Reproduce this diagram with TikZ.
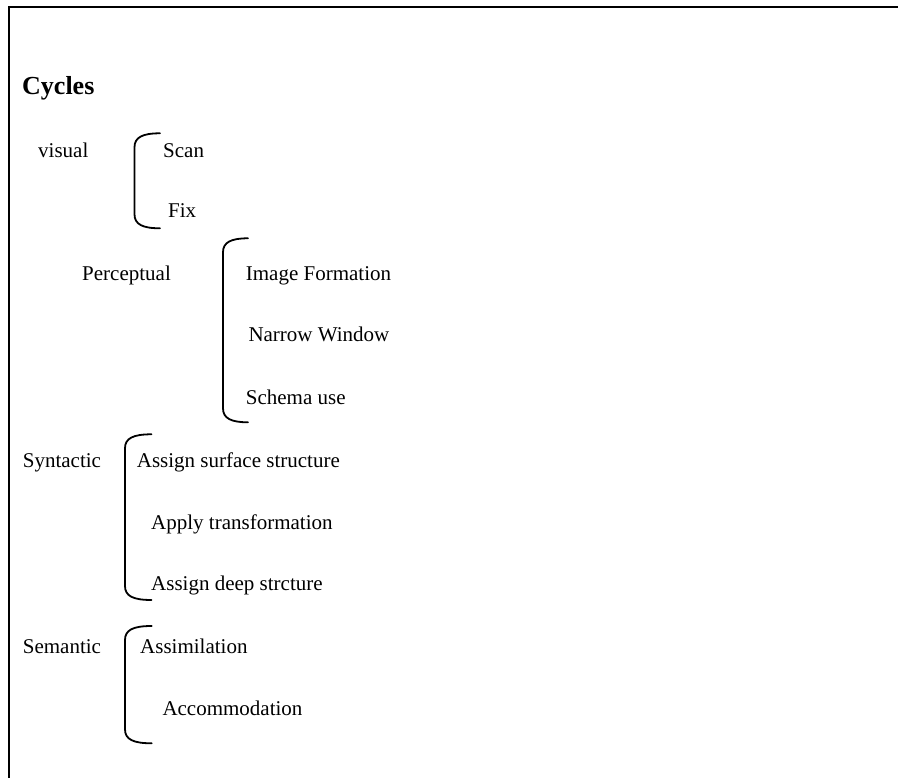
\documentclass[tikz,border=0pt]{standalone}
\usepackage{fontspec}
\setmainfont{Liberation Serif}
\begin{document}
\begin{tikzpicture}[x=1pt,y=-1pt,
  lbl/.style={anchor=base west,inner sep=0pt,font=\fontsize{21}{25}\selectfont},
  ttl/.style={anchor=base west,inner sep=0pt,font=\fontsize{26}{30}\selectfont\bfseries},
  brk/.style={line width=1.8pt,line cap=round},
  frame/.style={line width=1.8pt}]
\useasboundingbox (0,0) rectangle (898,778);
% open frame: top and left edges
\draw[frame] (898,6.7) -- (9,6.7) -- (9,778);

% left brace: #1 vertical x, #2 end x, #3 top y, #4 bottom y
\newcommand\cyclebrace[4]{%
  \draw[brk] (#2,#3) .. controls ({#1+8},#3) and (#1,{#3+4}) .. (#1,{#3+14})
    -- (#1,{#4-14}) .. controls (#1,{#4-4}) and ({#1+8},#4) .. (#2,#4);}

\node[ttl] (title) at (22,95) {Cycles};

% visual cycle
\node[lbl] (visual) at (38,158) {visual};
\cyclebrace{134.5}{160}{133.3}{228.3}
\node[lbl] (scan) at (163,158) {Scan};
\node[lbl] (fix) at (168,218) {Fix};

% perceptual cycle
\node[lbl] (perc) at (82,281) {Perceptual};
\cyclebrace{223}{248}{238.3}{422.3}
\node[lbl] (image) at (245.7,281) {Image Formation};
\node[lbl] (narrow) at (248.3,342) {Narrow Window};
\node[lbl] (schema) at (245.7,404) {Schema use};

% syntactic cycle
\node[lbl] (synt) at (22.7,467) {Syntactic};
\cyclebrace{125}{151.5}{434.3}{600}
\node[lbl] (surface) at (136.7,467) {Assign surface structure};
\node[lbl] (apply) at (151,529) {Apply transformation};
\node[lbl] (deep) at (151,590) {Assign deep strcture};

% semantic cycle
\node[lbl] (sem) at (22.7,653) {Semantic};
\cyclebrace{125}{151.7}{626}{743.3}
\node[lbl] (assim) at (140,653) {Assimilation};
\node[lbl] (accom) at (162.3,715) {Accommodation};
\end{tikzpicture}
\end{document}
